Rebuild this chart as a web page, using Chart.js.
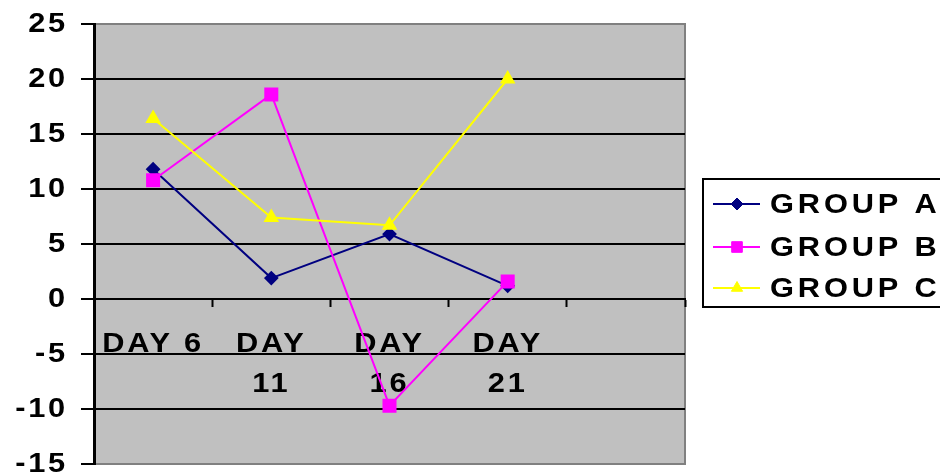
<!DOCTYPE html>
<html>
<head>
<meta charset="utf-8">
<script src="https://cdn.jsdelivr.net/npm/chart.js@4"></script>
<style>
  html, body { margin: 0; padding: 0; background: #ffffff; overflow: hidden; }
  canvas { display: block; }
</style>
</head>
<body>
<canvas id="chart" width="940" height="476"></canvas>
<script>
// Categories (the fifth slot is an empty category on the axis)
const categories = [['DAY 6'], ['DAY', '11'], ['DAY', '16'], ['DAY', '21'], ''];

// Series values
const groupA = [11.8, 1.9, 5.9, 1.2, null];
const groupB = [10.8, 18.6, -9.7, 1.6, null];
const groupC = [16.4, 7.4, 6.7, 20.0, null];

// Value axis ticks
const yTicks = [25, 20, 15, 10, 5, 0, -5, -10, -15];

const seriesNames = ['GROUP A', 'GROUP B', 'GROUP C'];

const FONT = "'Liberation Sans', Arial, Helvetica, sans-serif";
const TEXT_STRETCH = 1.1;

// Draw all canvas text slightly widened horizontally (bold, wide lettering)
function widenText(ctx, sx) {
  const orig = ctx.fillText.bind(ctx);
  ctx.fillText = function (text, x, y, maxWidth) {
    this.save();
    this.translate(x, y);
    this.scale(sx, 1);
    if (maxWidth === undefined || maxWidth === null) {
      orig(text, 0, 0);
    } else {
      orig(text, 0, 0, maxWidth / sx);
    }
    this.restore();
  };
}

// Grey plot area with a thin grey frame; also sets the letter spacing for axis text
const plotFrame = {
  id: 'plotFrame',
  beforeUpdate(chart) { chart.ctx.letterSpacing = '2.5px'; },
  beforeDraw(chart) {
    const { ctx, chartArea: a } = chart;
    ctx.save();
    ctx.fillStyle = '#c0c0c0';
    ctx.fillRect(a.left, a.top, a.right - a.left, a.bottom - a.top);
    ctx.strokeStyle = '#808080';
    ctx.lineWidth = 2;
    ctx.strokeRect(a.left, a.top, a.right - a.left, a.bottom - a.top);
    ctx.restore();
    ctx.letterSpacing = '2.5px';
  }
};

// Boxed legend to the right of the plot: line sample with marker, then the series name
const boxedLegend = {
  id: 'boxedLegend',
  afterDraw(chart) {
    const { ctx, chartArea: a } = chart;
    const x0 = a.right + 18;
    const y0 = 179;
    const rows = [204, 247, 288];
    ctx.save();
    ctx.strokeStyle = '#000000';
    ctx.lineWidth = 2;
    ctx.strokeRect(x0, y0, 320, 128);
    chart.data.datasets.forEach((ds, i) => {
      const y = rows[i];
      ctx.strokeStyle = ds.borderColor;
      ctx.lineWidth = 2;
      ctx.beginPath();
      ctx.moveTo(x0 + 10, y);
      ctx.lineTo(x0 + 57, y);
      ctx.stroke();
      ctx.fillStyle = ds.pointBackgroundColor;
      ctx.strokeStyle = ds.pointBorderColor;
      ctx.lineWidth = 1;
      Chart.helpers.drawPoint(ctx, {
        pointStyle: ds.pointStyle,
        radius: ds.legendRadius,
        borderWidth: 1,
        rotation: 0
      }, x0 + 34, y);
      ctx.fillStyle = '#000000';
      ctx.font = 'bold 28px ' + FONT;
      ctx.letterSpacing = '3.5px';
      ctx.textAlign = 'left';
      ctx.textBaseline = 'middle';
      ctx.fillText(ds.label, x0 + 67, y + 1);
    });
    ctx.restore();
  }
};

const canvas = document.getElementById('chart');
const context = canvas.getContext('2d');
widenText(context, TEXT_STRETCH);

new Chart(context, {
  type: 'line',
  data: {
    labels: categories,
    datasets: [
      {
        label: seriesNames[0], data: groupA, order: 3,
        borderColor: '#000080', backgroundColor: '#000080',
        pointStyle: 'rectRot', pointRadius: 6, legendRadius: 6,
        pointBackgroundColor: '#000080', pointBorderColor: '#000080',
        borderWidth: 2, tension: 0
      },
      {
        label: seriesNames[1], data: groupB, order: 2,
        borderColor: '#ff00ff', backgroundColor: '#ff00ff',
        pointStyle: 'rect', pointRadius: 8.5, legendRadius: 7.5,
        pointBackgroundColor: '#ff00ff', pointBorderColor: '#ff00ff',
        borderWidth: 2, tension: 0
      },
      {
        label: seriesNames[2], data: groupC, order: 1,
        borderColor: '#ffff00', backgroundColor: '#ffff00',
        pointStyle: 'triangle', pointRadius: 7, legendRadius: 6.5,
        pointBackgroundColor: '#ffff00', pointBorderColor: '#ffff00',
        borderWidth: 2, tension: 0
      }
    ]
  },
  options: {
    responsive: false,
    animation: false,
    events: [],
    layout: { padding: { top: 24, right: 255, bottom: 12, left: 0 } },
    plugins: {
      legend: { display: false },
      tooltip: { enabled: false }
    },
    font: { family: FONT },
    scales: {
      x: {
        type: 'category',
        position: { y: 0 },
        offset: true,
        grid: {
          offset: true,
          drawOnChartArea: false,
          drawTicks: true,
          tickLength: 7,
          tickColor: '#000000',
          tickWidth: 2
        },
        border: { display: true, color: '#000000', width: 2 },
        ticks: {
          autoSkip: false,
          maxRotation: 0,
          minRotation: 0,
          padding: 18,
          color: '#000000',
          font: { family: FONT, size: 28, weight: 'bold', lineHeight: 1.43 }
        },
        afterFit(scale) {
          scale.height = 0;
          scale.paddingLeft = 0;
          scale.paddingRight = 0;
        }
      },
      y: {
        min: Math.min(...yTicks),
        max: Math.max(...yTicks),
        afterBuildTicks(scale) {
          scale.ticks = yTicks.map(v => ({ value: v }));
        },
        grid: {
          color: c => (c.tick && (c.tick.value === 25 || c.tick.value === -15)) ? '#808080' : '#000000',
          lineWidth: 2,
          tickColor: '#000000',
          tickLength: 13,
          tickWidth: 2
        },
        border: { display: true, color: '#000000', width: 3 },
        ticks: {
          padding: 13,
          color: '#000000',
          font: { family: FONT, size: 28, weight: 'bold', lineHeight: 1.2 }
        },
        afterFit(scale) {
          scale.width = 94;
          scale.paddingTop = 0;
          scale.paddingBottom = 0;
        }
      }
    }
  },
  plugins: [plotFrame, boxedLegend]
});
</script>
</body>
</html>
